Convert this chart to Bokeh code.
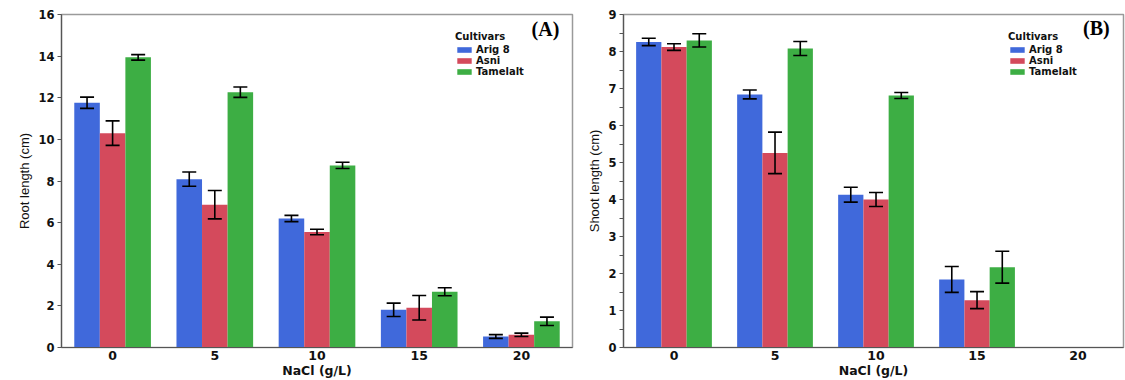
from bokeh.plotting import figure
from bokeh.models import ColumnDataSource, Whisker, TeeHead, Legend, LegendItem, Label, FixedTicker
from bokeh.layouts import row
from bokeh.embed import file_html
from bokeh.resources import INLINE

doses = ["0", "5", "10", "15", "20"]
cultivars = ["Arig 8", "Asni", "Tamelalt"]
colors = ["#4069DB", "#D44A5C", "#3DAE44"]

root_arig = [11.76, 8.09, 6.20, 1.81, 0.53]
root_arig_err = [0.27, 0.34, 0.15, 0.32, 0.09]
root_asni = [10.30, 6.86, 5.55, 1.91, 0.61]
root_asni_err = [0.59, 0.68, 0.13, 0.59, 0.08]
root_tam = [13.94, 12.27, 8.75, 2.68, 1.26]
root_tam_err = [0.13, 0.25, 0.15, 0.19, 0.20]

shoot_arig = [8.26, 6.84, 4.13, 1.84]
shoot_arig_err = [0.10, 0.12, 0.20, 0.35]
shoot_asni = [8.12, 5.26, 4.00, 1.28]
shoot_asni_err = [0.09, 0.56, 0.19, 0.23]
shoot_tam = [8.30, 8.08, 6.81, 2.17]
shoot_tam_err = [0.18, 0.19, 0.08, 0.43]

offsets = [-0.25, 0.0, 0.25]
BOLD = "DejaVu Sans"
TXT = "#111111"


def make_panel(series, errs, ymax, yticks, minor, ylabel, tag, tag_xy, width,
               bl, br, x_end, leg_loc):
    p = figure(width=width, height=380, x_range=(-0.5, x_end), y_range=(0, ymax),
               output_backend="svg", toolbar_location=None,
               min_border_left=bl, min_border_right=br, min_border_top=14,
               min_border_bottom=10)
    p.xgrid.visible = False
    p.ygrid.visible = False
    p.outline_line_color = "#9a9a9a"
    p.outline_line_width = 1.5
    items = []
    for i, (vals, er) in enumerate(zip(series, errs)):
        xs = [k + offsets[i] for k in range(len(vals))]
        src = ColumnDataSource(dict(x=xs, top=vals,
                                    upper=[v + e for v, e in zip(vals, er)],
                                    lower=[v - e for v, e in zip(vals, er)]))
        r = p.vbar(x="x", top="top", width=0.25, source=src, color=colors[i], line_color=None)
        items.append(LegendItem(label=cultivars[i], renderers=[r]))
        w = Whisker(source=src, base="x", upper="upper", lower="lower",
                    line_color="black", line_width=1.6, level="overlay",
                    upper_head=TeeHead(size=14, line_color="black", line_width=1.6),
                    lower_head=TeeHead(size=14, line_color="black", line_width=1.6))
        p.add_layout(w)
    leg = Legend(items=items, location=leg_loc, title="Cultivars",
                 title_text_font=BOLD, title_text_font_style="bold",
                 title_text_font_size="10px", title_standoff=2, title_text_color=TXT,
                 label_text_font=BOLD, label_text_font_style="bold", label_text_color=TXT,
                 label_text_font_size="10px", label_height=10, label_standoff=3,
                 glyph_width=18, glyph_height=7, spacing=0, padding=0, margin=0,
                 border_line_color=None, background_fill_alpha=0)
    p.add_layout(leg, "center")
    p.add_layout(Label(x=tag_xy[0], y=tag_xy[1], text=tag, text_font="Liberation Serif",
                       text_font_style="bold", text_font_size="20px", text_color="black",
                       text_baseline="middle", text_align="left"))
    # x axis
    p.xaxis.ticker = FixedTicker(ticks=list(range(len(doses))))
    p.xaxis.major_label_overrides = {i: d for i, d in enumerate(doses)}
    p.xaxis.major_tick_line_color = None
    p.xaxis.minor_tick_line_color = None
    p.xaxis.major_tick_out = 0
    p.xaxis.major_tick_in = 0
    p.xaxis.minor_tick_out = 0
    p.xaxis.minor_tick_in = 0
    p.xaxis.axis_line_color = "#555555"
    p.xaxis.axis_line_width = 1.2
    p.xaxis.major_label_text_font = BOLD
    p.xaxis.major_label_text_font_style = "bold"
    p.xaxis.major_label_text_font_size = "12.5px"
    p.xaxis.major_label_text_color = TXT
    p.xaxis.major_label_standoff = 3
    p.xaxis.axis_label = "NaCl (g/L)"
    p.xaxis.axis_label_text_font = BOLD
    p.xaxis.axis_label_text_font_style = "bold"
    p.xaxis.axis_label_text_font_size = "12.5px"
    p.xaxis.axis_label_text_color = TXT
    p.xaxis.axis_label_standoff = 0
    # y axis
    p.yaxis.ticker = FixedTicker(ticks=yticks, minor_ticks=minor)
    p.yaxis.axis_line_color = "#555555"
    p.yaxis.axis_line_width = 1.2
    p.yaxis.major_tick_out = 4
    p.yaxis.major_tick_in = 0
    p.yaxis.minor_tick_out = 4
    p.yaxis.minor_tick_in = 0
    p.yaxis.major_tick_line_color = "#555555"
    p.yaxis.minor_tick_line_color = "#555555"
    p.yaxis.major_label_text_font = BOLD
    p.yaxis.major_label_text_font_style = "bold"
    p.yaxis.major_label_text_font_size = "11.5px"
    p.yaxis.major_label_text_color = TXT
    p.yaxis.major_label_standoff = 3
    p.yaxis.axis_label = ylabel
    p.yaxis.axis_label_text_font = "Liberation Sans"
    p.yaxis.axis_label_text_font_style = "normal"
    p.yaxis.axis_label_text_font_size = "13px"
    p.yaxis.axis_label_text_color = TXT
    p.yaxis.axis_label_standoff = 3
    return p


left = make_panel([root_arig, root_asni, root_tam],
                  [root_arig_err, root_asni_err, root_tam_err],
                  16, list(range(0, 17, 2)), [], "Root length (cm)", "(A)", (4.10, 15.3),
                  584, 61, 12, 4.5, (394, 270))
right = make_panel([shoot_arig, shoot_asni, shoot_tam],
                   [shoot_arig_err, shoot_asni_err, shoot_tam_err],
                   9, list(range(0, 10)), [k + 0.5 for k in range(9)], "Shoot length (cm)", "(B)",
                   (4.05, 8.63), 541, 34, 2, 4.45, (385, 270))

layout = row(left, right)
open("out.html", "w").write(file_html(layout, INLINE))
